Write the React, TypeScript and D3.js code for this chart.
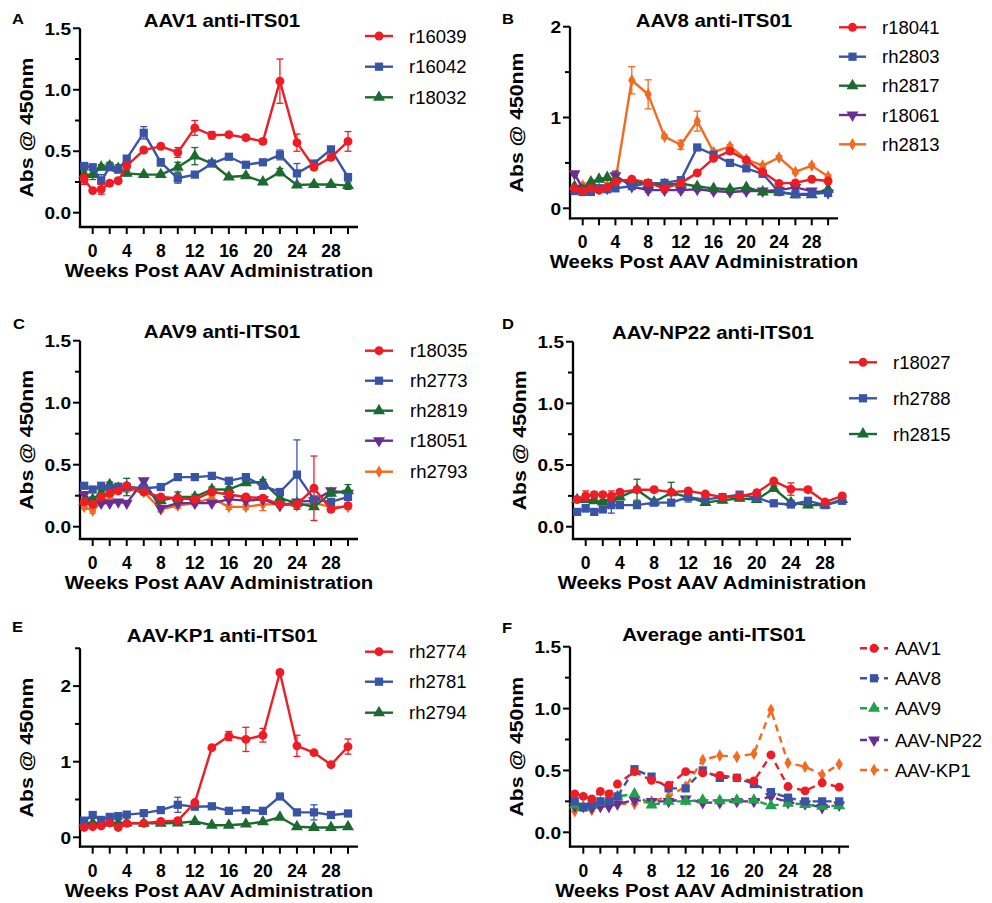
import React from 'react';
import * as d3 from 'd3';

const FONT = '"Liberation Sans", Arial, Helvetica, sans-serif';

const weeks = [-1, 0, 1, 2, 3, 4, 6, 8, 10, 12, 14, 16, 18, 20, 22, 24, 26, 28, 30];
const xTicks = d3.range(0, 31, 2);
const xTickLabels = [0, 4, 8, 12, 16, 20, 24, 28];

// Panel A - AAV1
const a_r16039 = [0.27, 0.18, 0.19, 0.24, 0.26, 0.38, 0.51, 0.54, 0.49, 0.69, 0.63, 0.635, 0.61, 0.58, 1.07, 0.57, 0.37, 0.45, 0.58];
const a_r16039_err = [0.04, 0.02, 0.04, 0.02, 0.02, 0.02, 0.02, 0.02, 0.04, 0.06, 0.03, 0.02, 0.02, 0.02, 0.18, 0.07, 0.02, 0.02, 0.08];
const a_r16042 = [0.38, 0.37, 0.26, 0.37, 0.35, 0.44, 0.65, 0.41, 0.28, 0.31, 0.40, 0.455, 0.39, 0.41, 0.47, 0.32, 0.40, 0.515, 0.29];
const a_r16042_err = [0.02, 0.02, 0.05, 0.02, 0.02, 0.02, 0.05, 0.03, 0.04, 0.02, 0.02, 0.02, 0.02, 0.02, 0.04, 0.08, 0.02, 0.02, 0.02];
const a_r18032 = [0.31, 0.31, 0.37, 0.38, 0.36, 0.32, 0.31, 0.31, 0.37, 0.46, 0.40, 0.29, 0.30, 0.25, 0.33, 0.225, 0.23, 0.23, 0.22];
const a_r18032_err = [0.03, 0.04, 0.02, 0.03, 0.03, 0.02, 0.01, 0.01, 0.04, 0.07, 0.02, 0.01, 0.01, 0.01, 0.03, 0.01, 0.01, 0.01, 0.03];

// Panel B - AAV8
const b_r18041 = [0.22, 0.19, 0.22, 0.20, 0.23, 0.29, 0.32, 0.28, 0.22, 0.28, 0.39, 0.55, 0.63, 0.53, 0.40, 0.275, 0.28, 0.32, 0.30];
const b_rh2803 = [0.19, 0.18, 0.18, 0.22, 0.21, 0.22, 0.245, 0.275, 0.28, 0.31, 0.67, 0.59, 0.50, 0.44, 0.38, 0.18, 0.155, 0.16, 0.17];
const b_rh2817 = [0.24, 0.20, 0.29, 0.32, 0.34, 0.31, 0.30, 0.26, 0.26, 0.275, 0.24, 0.22, 0.21, 0.23, 0.18, 0.18, 0.15, 0.15, 0.21];
const b_r18061 = [0.38, 0.22, 0.21, 0.22, 0.22, 0.36, 0.24, 0.20, 0.20, 0.20, 0.21, 0.19, 0.18, 0.19, 0.19, 0.20, 0.23, 0.19, 0.17];
const b_r18061_err = [0.02, 0.02, 0.02, 0.02, 0.02, 0.05, 0.02, 0.02, 0.02, 0.02, 0.02, 0.02, 0.02, 0.02, 0.02, 0.02, 0.02, 0.02, 0.02];
const b_rh2813 = [0.22, 0.25, 0.22, 0.22, 0.25, 0.30, 1.41, 1.255, 0.79, 0.70, 0.96, 0.62, 0.68, 0.54, 0.47, 0.56, 0.40, 0.47, 0.35];
const b_rh2813_err = [0.02, 0.03, 0.02, 0.02, 0.03, 0.1, 0.15, 0.16, 0.02, 0.05, 0.11, 0.02, 0.02, 0.02, 0.02, 0.02, 0.02, 0.02, 0.02];

// Panel C - AAV9
const c_r18035 = [0.20, 0.18, 0.24, 0.27, 0.29, 0.33, 0.28, 0.24, 0.23, 0.22, 0.28, 0.26, 0.24, 0.23, 0.18, 0.18, 0.31, 0.14, 0.17];
const c_r18035_err = [0.02, 0.02, 0.02, 0.02, 0.02, 0.02, 0.02, 0.02, 0.02, 0.02, 0.02, 0.02, 0.02, 0.02, 0.02, 0.02, 0.26, 0.02, 0.02];
const c_rh2773 = [0.33, 0.30, 0.33, 0.31, 0.32, 0.32, 0.31, 0.32, 0.40, 0.40, 0.41, 0.37, 0.40, 0.33, 0.28, 0.42, 0.22, 0.20, 0.24];
const c_rh2773_err = [0.02, 0.02, 0.02, 0.02, 0.02, 0.02, 0.02, 0.02, 0.02, 0.02, 0.02, 0.02, 0.02, 0.02, 0.02, 0.28, 0.02, 0.02, 0.02];
const c_rh2819 = [0.20, 0.22, 0.27, 0.34, 0.31, 0.32, 0.30, 0.21, 0.24, 0.24, 0.30, 0.30, 0.355, 0.36, 0.23, 0.19, 0.16, 0.27, 0.29];
const c_rh2819_err = [0.02, 0.02, 0.02, 0.02, 0.04, 0.07, 0.02, 0.02, 0.04, 0.02, 0.02, 0.02, 0.02, 0.02, 0.02, 0.02, 0.02, 0.02, 0.05];
const c_r18051 = [0.26, 0.20, 0.19, 0.19, 0.20, 0.19, 0.37, 0.15, 0.19, 0.19, 0.19, 0.22, 0.21, 0.22, 0.17, 0.20, 0.21, 0.29, 0.27];
const c_rh2793 = [0.16, 0.13, 0.20, 0.23, 0.30, 0.30, 0.28, 0.14, 0.17, 0.19, 0.23, 0.16, 0.16, 0.18, 0.18, 0.17, 0.19, 0.16, 0.16];
const c_rh2793_err = [0.02, 0.02, 0.02, 0.02, 0.02, 0.02, 0.02, 0.02, 0.02, 0.02, 0.02, 0.02, 0.02, 0.05, 0.02, 0.02, 0.02, 0.02, 0.02];

// Panel D - AAV-NP22
const d_r18027 = [0.22, 0.25, 0.26, 0.26, 0.25, 0.28, 0.30, 0.30, 0.28, 0.29, 0.265, 0.24, 0.245, 0.275, 0.37, 0.305, 0.30, 0.20, 0.25];
const d_r18027_err = [0.02, 0.04, 0.02, 0.02, 0.04, 0.02, 0.02, 0.02, 0.02, 0.02, 0.02, 0.02, 0.02, 0.02, 0.02, 0.05, 0.02, 0.02, 0.02];
const d_rh2788 = [0.12, 0.15, 0.12, 0.14, 0.175, 0.175, 0.175, 0.195, 0.195, 0.24, 0.22, 0.24, 0.26, 0.235, 0.19, 0.18, 0.21, 0.175, 0.21];
const d_rh2788_err = [0.02, 0.03, 0.02, 0.02, 0.065, 0.02, 0.02, 0.02, 0.02, 0.04, 0.02, 0.02, 0.02, 0.02, 0.02, 0.02, 0.02, 0.02, 0.02];
const d_rh2815 = [0.22, 0.22, 0.21, 0.20, 0.23, 0.24, 0.30, 0.20, 0.275, 0.24, 0.195, 0.215, 0.23, 0.22, 0.31, 0.195, 0.175, 0.175, 0.22];
const d_rh2815_err = [0.02, 0.02, 0.02, 0.02, 0.02, 0.02, 0.085, 0.02, 0.085, 0.02, 0.02, 0.02, 0.02, 0.02, 0.02, 0.02, 0.02, 0.02, 0.02];

// Panel E - AAV-KP1
const e_rh2774 = [0.13, 0.14, 0.15, 0.19, 0.13, 0.185, 0.185, 0.21, 0.22, 0.46, 1.185, 1.34, 1.295, 1.35, 2.18, 1.21, 1.12, 0.96, 1.20];
const e_rh2774_err = [0.02, 0.02, 0.02, 0.02, 0.02, 0.02, 0.02, 0.02, 0.02, 0.02, 0.02, 0.06, 0.16, 0.09, 0.02, 0.14, 0.02, 0.02, 0.1];
const e_rh2781 = [0.22, 0.295, 0.23, 0.27, 0.28, 0.30, 0.32, 0.36, 0.43, 0.405, 0.41, 0.35, 0.36, 0.35, 0.54, 0.33, 0.33, 0.295, 0.315];
const e_rh2781_err = [0.02, 0.02, 0.02, 0.02, 0.02, 0.02, 0.02, 0.02, 0.1, 0.02, 0.02, 0.02, 0.02, 0.02, 0.02, 0.02, 0.1, 0.02, 0.02];
const e_rh2794 = [0.185, 0.19, 0.19, 0.19, 0.19, 0.19, 0.185, 0.185, 0.19, 0.21, 0.16, 0.16, 0.175, 0.205, 0.265, 0.14, 0.13, 0.13, 0.14];

// Panel F - averages
const f_aav1 = [0.31, 0.29, 0.27, 0.33, 0.31, 0.39, 0.49, 0.42, 0.38, 0.49, 0.48, 0.46, 0.44, 0.415, 0.625, 0.37, 0.335, 0.40, 0.365];
const f_aav8 = [0.25, 0.20, 0.22, 0.25, 0.25, 0.29, 0.51, 0.45, 0.355, 0.355, 0.50, 0.44, 0.44, 0.39, 0.325, 0.28, 0.25, 0.25, 0.25];
const f_aav9 = [0.22, 0.20, 0.22, 0.24, 0.26, 0.29, 0.31, 0.22, 0.25, 0.25, 0.26, 0.255, 0.26, 0.26, 0.215, 0.235, 0.225, 0.21, 0.215];
const f_np22 = [0.21, 0.21, 0.20, 0.21, 0.21, 0.23, 0.26, 0.25, 0.25, 0.27, 0.24, 0.24, 0.25, 0.25, 0.29, 0.24, 0.23, 0.20, 0.22];
const f_kp1 = [0.17, 0.21, 0.18, 0.21, 0.21, 0.23, 0.23, 0.25, 0.29, 0.37, 0.585, 0.62, 0.61, 0.635, 0.99, 0.56, 0.53, 0.465, 0.55];

const RED = '#ee1d25';
const BLUE = '#3a54a5';
const DGREEN = '#1c6a30';
const PURPLE = '#6a2d91';
const ORANGE = '#f36a22';
const LGREEN = '#22a04b';

type Shape = 'circle' | 'square' | 'triangle' | 'triDown' | 'diamond';
interface Series { name: string; values: number[]; err?: number[]; color: string; shape: Shape; }

const symType: Record<Shape, d3.SymbolType> = {
  circle: d3.symbolCircle, square: d3.symbolSquare, triangle: d3.symbolTriangle,
  triDown: d3.symbolTriangle, diamond: d3.symbolDiamond,
};
const symSize: Record<Shape, number> = { circle: 62, square: 68, triangle: 62, triDown: 62, diamond: 46 };

function Marker({ shape, x, y, color }: { shape: Shape; x: number; y: number; color: string }) {
  const d = d3.symbol().type(symType[shape]).size(symSize[shape])() as string;
  return <path d={d} fill={color} transform={`translate(${x},${y})${shape === 'triDown' ? ' rotate(180)' : ''}`} />;
}

function STxt({ x, y, sx = 1, anchor = 'start', size, weight = 'bold', rotate = 0, children }: any) {
  return (
    <text transform={`translate(${x},${y})${rotate ? ` rotate(${rotate})` : ''} scale(${sx},1)`}
      textAnchor={anchor} fontSize={size} fontWeight={weight} fontFamily={FONT} fill="#000">{children}</text>
  );
}

interface PanelCfg {
  letter: string; letterX: number; letterY: number;
  title: string; titleX: number; titleY: number;
  left: number; right: number; week0: number; ppw: number;
  yTop: number; yZero: number; axisY: number; yMax: number;
  yTicks: number[]; yLabels: number[]; yFmt: (v: number) => string;
  legX0: number; legX1: number; legTextX: number; legYs: number[];
  series: Series[]; dashed?: boolean;
}

function Panel({ p }: { p: PanelCfg }) {
  const x = d3.scaleLinear().domain([0, 30]).range([p.week0, p.week0 + 30 * p.ppw]);
  const y = d3.scaleLinear().domain([0, p.yMax]).range([p.yZero, p.yTop]);
  const line = d3.line<number>().x((_, i) => x(weeks[i])).y((v) => y(v));
  const dash = p.dashed ? '7,5' : undefined;
  const drawOrder = [...p.series].reverse();
  return (
    <g>
      <STxt x={p.letterX} y={p.letterY} size={15} sx={1.1}>{p.letter}</STxt>
      <STxt x={p.titleX} y={p.titleY} size={17.5} sx={1.17} anchor="middle">{p.title}</STxt>
      <STxt x={p.left - 47} y={(p.yTop + p.axisY) / 2} size={18} sx={1.18} anchor="middle" rotate={-90}>Abs @ 450nm</STxt>
      <STxt x={(p.left + p.right) / 2} y={p.axisY + 50} size={18.5} sx={1.1} anchor="middle">Weeks Post AAV Administration</STxt>
      {/* axes */}
      <line x1={p.left} x2={p.left} y1={p.axisY + 1} y2={p.yTop} stroke="#000" strokeWidth={2.3} />
      <line x1={p.left - 1.1} x2={p.right} y1={p.axisY} y2={p.axisY} stroke="#000" strokeWidth={2.3} />
      {p.yTicks.map((t) => {
        const major = p.yLabels.includes(t);
        return <line key={'yt' + t} x1={p.left - (major ? 7 : 5)} x2={p.left} y1={y(t)} y2={y(t)} stroke="#000" strokeWidth={2} />;
      })}
      {p.yLabels.map((t) => (
        <STxt key={'yl' + t} x={p.left - 9} y={y(t) + 6.2} size={17} sx={1.12} anchor="end">{p.yFmt(t)}</STxt>
      ))}
      {xTicks.map((t) => (
        <line key={'xt' + t} x1={x(t)} x2={x(t)} y1={p.axisY} y2={p.axisY + 7} stroke="#000" strokeWidth={2} />
      ))}
      {xTickLabels.map((t) => (
        <STxt key={'xl' + t} x={x(t)} y={p.axisY + 30} size={17.5} sx={1.0} anchor="middle">{t}</STxt>
      ))}
      {/* series */}
      {drawOrder.map((s) => (
        <g key={s.name}>
          {s.err && s.values.map((v, i) => {
            const cx = x(weeks[i]);
            const e = s.err![i];
            return (
              <g key={'e' + i} stroke={s.color} strokeWidth={1.3}>
                <line x1={cx} x2={cx} y1={y(v - e)} y2={y(v + e)} />
                <line x1={cx - 3.5} x2={cx + 3.5} y1={y(v + e)} y2={y(v + e)} />
                <line x1={cx - 3.5} x2={cx + 3.5} y1={y(v - e)} y2={y(v - e)} />
              </g>
            );
          })}
          <path d={line(s.values) as string} fill="none" stroke={s.color} strokeWidth={2.4} strokeDasharray={dash} strokeLinejoin="round" />
          {s.values.map((v, i) => <Marker key={'m' + i} shape={s.shape} x={x(weeks[i])} y={y(v)} color={s.color} />)}
        </g>
      ))}
      {/* legend */}
      {p.series.map((s, i) => (
        <g key={'lg' + s.name}>
          <line x1={p.legX0} x2={p.legX1} y1={p.legYs[i]} y2={p.legYs[i]} stroke={s.color} strokeWidth={2.4} strokeDasharray={p.dashed ? '7,5' : undefined} />
          <Marker shape={s.shape} x={(p.legX0 + p.legX1) / 2} y={p.legYs[i]} color={s.color} />
          <STxt x={p.legTextX} y={p.legYs[i] + 6.6} size={18.5} weight="normal">{s.name}</STxt>
        </g>
      ))}
    </g>
  );
}

const ticks15 = [0, 0.25, 0.5, 0.75, 1, 1.25, 1.5];
const labels15 = [0, 0.5, 1, 1.5];
const fmt1 = (v: number) => v.toFixed(1);
const fmt0 = (v: number) => String(v);

const panels: PanelCfg[] = [
  {
    letter: 'A', letterX: 12, letterY: 23.5, title: 'AAV1 anti-ITS01', titleX: 222, titleY: 27,
    left: 80, right: 358, week0: 92.7, ppw: 8.51, yTop: 28.3, yZero: 212.7, axisY: 227, yMax: 1.5,
    yTicks: ticks15, yLabels: labels15, yFmt: fmt1,
    legX0: 365, legX1: 393, legTextX: 409, legYs: [36, 66.7, 97.3],
    series: [
      { name: 'r16039', values: a_r16039, err: a_r16039_err, color: RED, shape: 'circle' },
      { name: 'r16042', values: a_r16042, err: a_r16042_err, color: BLUE, shape: 'square' },
      { name: 'r18032', values: a_r18032, err: a_r18032_err, color: DGREEN, shape: 'triangle' },
    ],
  },
  {
    letter: 'B', letterX: 502, letterY: 24, title: 'AAV8 anti-ITS01', titleX: 714, titleY: 27,
    left: 570, right: 838, week0: 582.7, ppw: 8.18, yTop: 26.7, yZero: 208.3, axisY: 218.3, yMax: 2,
    yTicks: [0, 0.5, 1, 1.5, 2], yLabels: [0, 1, 2], yFmt: fmt0,
    legX0: 839, legX1: 866, legTextX: 882, legYs: [27.3, 56.7, 85.7, 115, 144.3],
    series: [
      { name: 'r18041', values: b_r18041, color: RED, shape: 'circle' },
      { name: 'rh2803', values: b_rh2803, color: BLUE, shape: 'square' },
      { name: 'rh2817', values: b_rh2817, color: DGREEN, shape: 'triangle' },
      { name: 'r18061', values: b_r18061, err: b_r18061_err, color: PURPLE, shape: 'triDown' },
      { name: 'rh2813', values: b_rh2813, err: b_rh2813_err, color: ORANGE, shape: 'diamond' },
    ],
  },
  {
    letter: 'C', letterX: 13, letterY: 328.5, title: 'AAV9 anti-ITS01', titleX: 222, titleY: 338,
    left: 80, right: 358, week0: 92.7, ppw: 8.51, yTop: 340.7, yZero: 526.7, axisY: 539, yMax: 1.5,
    yTicks: ticks15, yLabels: labels15, yFmt: fmt1,
    legX0: 365, legX1: 393, legTextX: 410, legYs: [350.7, 380.7, 410.7, 440.7, 471.7],
    series: [
      { name: 'r18035', values: c_r18035, err: c_r18035_err, color: RED, shape: 'circle' },
      { name: 'rh2773', values: c_rh2773, err: c_rh2773_err, color: BLUE, shape: 'square' },
      { name: 'rh2819', values: c_rh2819, err: c_rh2819_err, color: DGREEN, shape: 'triangle' },
      { name: 'r18051', values: c_r18051, color: PURPLE, shape: 'triDown' },
      { name: 'rh2793', values: c_rh2793, err: c_rh2793_err, color: ORANGE, shape: 'diamond' },
    ],
  },
  {
    letter: 'D', letterX: 502, letterY: 328.5, title: 'AAV-NP22 anti-ITS01', titleX: 713, titleY: 339,
    left: 573, right: 851, week0: 585.7, ppw: 8.55, yTop: 341.7, yZero: 526.7, axisY: 539, yMax: 1.5,
    yTicks: ticks15, yLabels: labels15, yFmt: fmt1,
    legX0: 849, legX1: 877, legTextX: 893, legYs: [362.3, 398.3, 434],
    series: [
      { name: 'r18027', values: d_r18027, err: d_r18027_err, color: RED, shape: 'circle' },
      { name: 'rh2788', values: d_rh2788, err: d_rh2788_err, color: BLUE, shape: 'square' },
      { name: 'rh2815', values: d_rh2815, err: d_rh2815_err, color: DGREEN, shape: 'triangle' },
    ],
  },
  {
    letter: 'E', letterX: 12, letterY: 632, title: 'AAV-KP1 anti-ITS01', titleX: 222, titleY: 642,
    left: 80, right: 358, week0: 92.7, ppw: 8.51, yTop: 648.3, yZero: 837.3, axisY: 846.7, yMax: 2.5,
    yTicks: [0, 0.5, 1, 1.5, 2, 2.5], yLabels: [0, 1, 2], yFmt: fmt0,
    legX0: 365, legX1: 393, legTextX: 409, legYs: [651.7, 681.7, 712.7],
    series: [
      { name: 'rh2774', values: e_rh2774, err: e_rh2774_err, color: RED, shape: 'circle' },
      { name: 'rh2781', values: e_rh2781, err: e_rh2781_err, color: BLUE, shape: 'square' },
      { name: 'rh2794', values: e_rh2794, color: DGREEN, shape: 'triangle' },
    ],
  },
  {
    letter: 'F', letterX: 502, letterY: 633, title: 'Average anti-ITS01', titleX: 714, titleY: 640.5,
    left: 570, right: 849, week0: 583.3, ppw: 8.53, yTop: 646.7, yZero: 832.3, axisY: 846.7, yMax: 1.5,
    yTicks: ticks15, yLabels: labels15, yFmt: fmt1,
    legX0: 860, legX1: 888, legTextX: 895, legYs: [648.3, 678.3, 708.3, 740, 770],
    dashed: true,
    series: [
      { name: 'AAV1', values: f_aav1, color: RED, shape: 'circle' },
      { name: 'AAV8', values: f_aav8, color: BLUE, shape: 'square' },
      { name: 'AAV9', values: f_aav9, color: LGREEN, shape: 'triangle' },
      { name: 'AAV-NP22', values: f_np22, color: PURPLE, shape: 'triDown' },
      { name: 'AAV-KP1', values: f_kp1, color: ORANGE, shape: 'diamond' },
    ],
  },
];

export default function App() {
  return (
    <svg width={992} height={903} viewBox="0 0 992 903"
      style={{ position: 'absolute', left: 0, top: 0, background: '#fff' }}>
      <rect width={992} height={903} fill="#fff" />
      {panels.map((p) => <Panel key={p.letter} p={p} />)}
    </svg>
  );
}
